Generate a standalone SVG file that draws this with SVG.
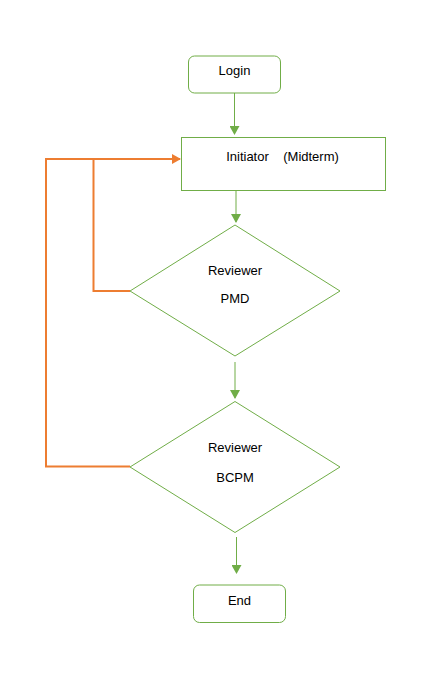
<svg xmlns="http://www.w3.org/2000/svg" width="434" height="678" viewBox="0 0 434 678">
<style>
.g{fill:#fff;stroke:#70AD47;stroke-width:1}
.t{font-family:"Liberation Sans",Arial,sans-serif;font-size:13px;fill:#000;text-anchor:middle}
.gl{stroke:#70AD47;stroke-width:1;fill:none}
.ol{stroke:#ED7D31;stroke-width:2;fill:none}
</style>
<defs>
<marker id="ag" markerWidth="10" markerHeight="10" refX="8" refY="5" orient="auto" markerUnits="userSpaceOnUse"><path d="M0,0 L9,5 L0,10 z" fill="#70AD47"/></marker>
<marker id="ao" markerWidth="10" markerHeight="10" refX="8" refY="5" orient="auto" markerUnits="userSpaceOnUse"><path d="M0,0 L9,5 L0,10 z" fill="#ED7D31"/></marker>
</defs>
<rect width="434" height="678" fill="#fff"/>
<g id="connectors">
<line class="gl" x1="234.5" y1="93" x2="234.5" y2="134" marker-end="url(#ag)"/>
<line class="gl" x1="236" y1="191" x2="236" y2="222" marker-end="url(#ag)"/>
<line class="gl" x1="235" y1="362" x2="235" y2="398" marker-end="url(#ag)"/>
<line class="gl" x1="236.5" y1="537" x2="236.5" y2="573" marker-end="url(#ag)"/>
<polyline class="ol" points="130,291 93.5,291 93.5,159"/>
<polyline class="ol" points="130,466.5 46,466.5 46,159 180,159" marker-end="url(#ao)"/>
</g>
<g id="login">
<rect class="g" x="188.5" y="56" width="92" height="37" rx="6"/>
<text class="t" x="234.5" y="75">Login</text>
</g>
<g id="initiator">
<rect class="g" x="181.5" y="137.5" width="204" height="53"/>
<text class="t" x="282.5" y="161" xml:space="preserve">Initiator    (Midterm)</text>
</g>
<g id="pmd">
<polygon class="g" points="235,225 340,291 235,356 130,291"/>
<text class="t" x="235" y="275">Reviewer</text>
<text class="t" x="235" y="303">PMD</text>
</g>
<g id="bcpm">
<polygon class="g" points="235,401.5 340,467 235,532.5 130,467"/>
<text class="t" x="235" y="452">Reviewer</text>
<text class="t" x="235" y="482">BCPM</text>
</g>
<g id="end">
<rect class="g" x="193.5" y="585" width="92" height="37.5" rx="6"/>
<text class="t" x="239.5" y="605">End</text>
</g>
</svg>
